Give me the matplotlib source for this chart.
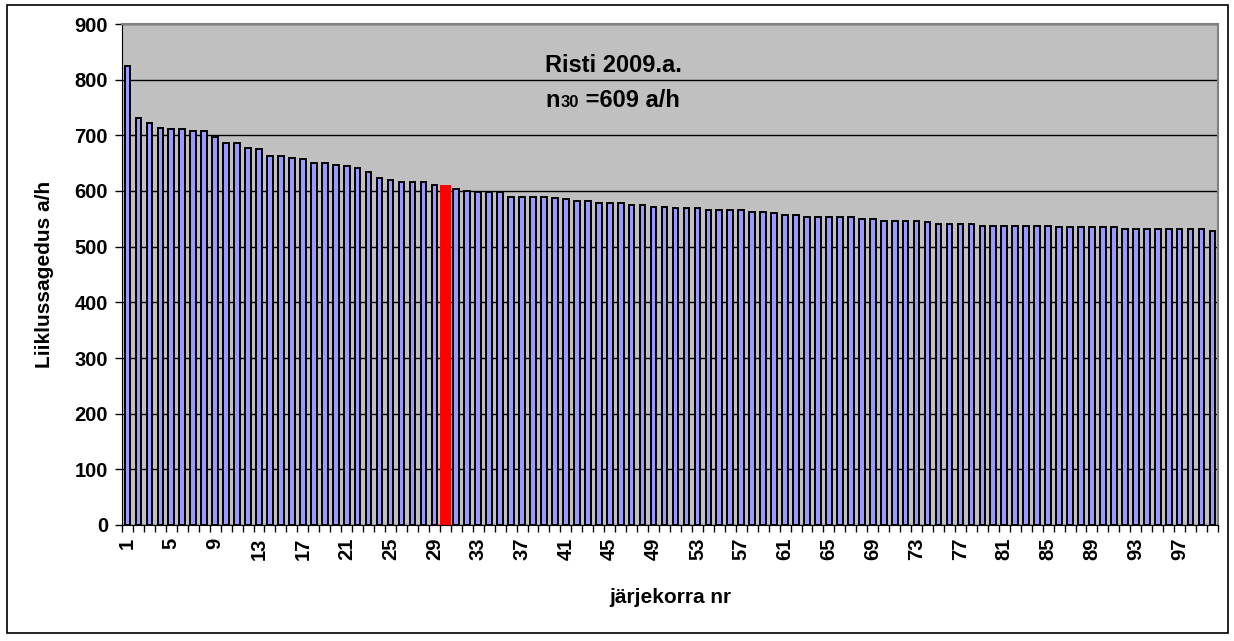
import matplotlib
matplotlib.use("Agg")
import matplotlib.pyplot as plt
from matplotlib.patches import Rectangle

plt.rcParams['font.family'] = ['Liberation Sans', 'DejaVu Sans']

values = [824, 732, 723, 713, 711, 711, 708, 708, 697, 686,
          686, 678, 675, 662, 662, 660, 657, 650, 650, 646,
          645, 641, 635, 623, 619, 616, 616, 616, 610, 609,
          604, 600, 598, 598, 598, 590, 590, 590, 590, 587,
          585, 582, 582, 579, 579, 579, 575, 575, 572, 572,
          569, 569, 569, 566, 566, 566, 566, 563, 563, 560,
          557, 557, 554, 554, 554, 554, 554, 550, 550, 546,
          546, 546, 546, 544, 541, 541, 541, 541, 538, 538,
          538, 538, 538, 538, 538, 535, 535, 535, 535, 535,
          535, 531, 531, 531, 531, 531, 531, 531, 531, 529]
ranks = list(range(1, len(values) + 1))
highlight_rank = 30
yticks = [0, 100, 200, 300, 400, 500, 600, 700, 800, 900]
xtick_labels = [str(r) for r in ranks if (r - 1) % 4 == 0]
title_line1 = "Risti 2009.a."
ylabel = "Liiklussagedus a/h"
xlabel = "järjekorra nr"

fig = plt.figure(figsize=(12.34, 6.41), dpi=100)
ax = fig.add_axes([122/1234, 1 - 525/641, (1218-122)/1234, (525-24)/641])
ax.set_facecolor('#C0C0C0')
ax.set_axisbelow(True)

colors = ['#FF0000' if r == highlight_rank else '#9999FF' for r in ranks]
edges = ['#FF0000' if r == highlight_rank else 'black' for r in ranks]
widths = [0.8 if r == highlight_rank else 0.52 for r in ranks]
ax.bar(ranks, values, width=widths, color=colors, edgecolor=edges, linewidth=1.4, zorder=3)

ax.set_xlim(0.5, len(values) + 0.5)
ax.set_ylim(0, 900)
ax.set_yticks(yticks)
ax.set_yticklabels([str(v) for v in yticks], fontsize=14.5, fontweight='bold')
ax.yaxis.grid(True, color='black', linewidth=1.0, zorder=1)
ax.tick_params(axis='y', direction='out', length=5, width=1, pad=5)

# x tick marks at category boundaries, labels at bar centers
ax.set_xticks([0.5] + [r + 0.5 for r in ranks], minor=False)
ax.set_xticklabels([])
ax.tick_params(axis='x', which='major', direction='out', length=5, width=1)
ax.set_xticks([r for r in ranks if (r - 1) % 4 == 0], minor=True)
ax.set_xticklabels(xtick_labels, minor=True, rotation=90, fontsize=14.5, fontweight='bold')
ax.tick_params(axis='x', which='minor', length=0, pad=9)

for s in ['top', 'right']:
    ax.spines[s].set_color('#808080')
    ax.spines[s].set_linewidth(1.5)
ax.spines['left'].set_color('black')
ax.spines['bottom'].set_color('black')

ax.set_ylabel(ylabel, fontsize=15, fontweight='bold', labelpad=15)
ax.set_xlabel(xlabel, fontsize=15, fontweight='bold', labelpad=20)

ax.text(0.386, 0.904, title_line1, transform=ax.transAxes, fontsize=17,
        fontweight='bold', ha='left', va='baseline', zorder=5)
t1 = ax.text(0.386, 0.835, "n", transform=ax.transAxes, fontsize=17,
             fontweight='bold', ha='left', va='baseline', zorder=5)
fig.canvas.draw()
x1 = ax.transAxes.inverted().transform((t1.get_window_extent().x1, 0))[0]
t2 = ax.text(x1 + 0.001, 0.835, "30", transform=ax.transAxes, fontsize=12,
             fontweight='bold', ha='left', va='baseline', zorder=5)
fig.canvas.draw()
x2 = ax.transAxes.inverted().transform((t2.get_window_extent().x1, 0))[0]
ax.text(x2, 0.835, " =609 a/h", transform=ax.transAxes, fontsize=17,
        fontweight='bold', ha='left', va='baseline', zorder=5)

fig.patches.append(Rectangle((7/1234, 1 - 633/641), (1228-7)/1234, (633-5)/641,
                             transform=fig.transFigure, fill=False,
                             edgecolor='black', linewidth=1.2))

fig.savefig('out.png', dpi=100)
